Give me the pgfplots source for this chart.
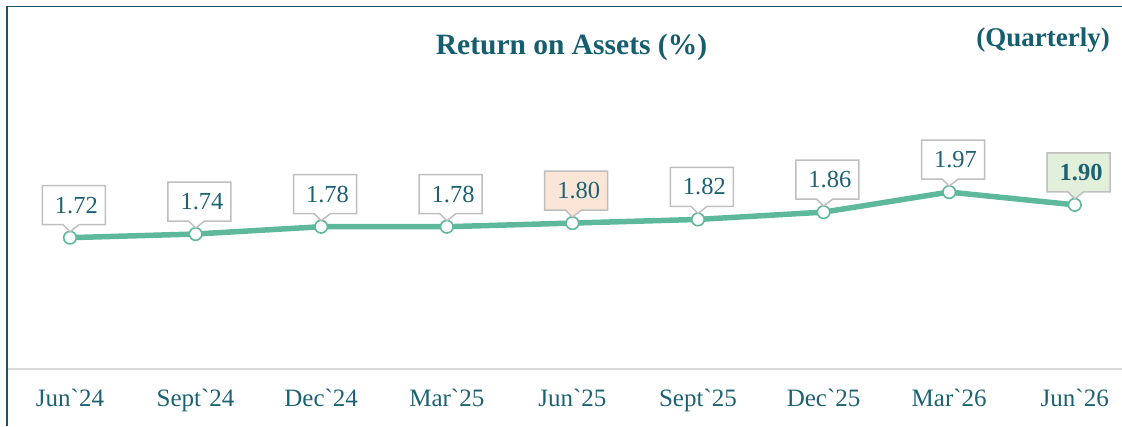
\documentclass[border=0pt]{standalone}
\usepackage{fontspec}
\setmainfont{Liberation Serif}[Ligatures=TeXOff]
\usepackage{pgfplots}
\pgfplotsset{compat=1.18}
\usetikzlibrary{shapes.callouts}
\definecolor{titlec}{RGB}{22,94,110}
\definecolor{labc}{RGB}{28,98,114}
\definecolor{linec}{RGB}{94,184,156}
\definecolor{boxc}{RGB}{191,191,191}
\definecolor{orfill}{RGB}{251,229,214}
\definecolor{grfill}{RGB}{226,239,218}
\definecolor{framec}{RGB}{27,84,104}
\definecolor{axc}{RGB}{217,217,217}

\pgfplotsset{
  calloutlab/.style={
    draw=none, mark=none, point meta=y,
    nodes near coords={\hspace*{5pt}\pgfmathprintnumber[fixed,precision=2,fixed zerofill,assume math mode=true]{\pgfplotspointmeta}},
    every node near coord/.append style={rectangle callout, draw=boxc, line width=1.5pt, fill=#1, text=labc,
      font=\fontsize{24.5}{28}\selectfont, minimum width=63pt, minimum height=39pt,
      inner sep=0pt, callout relative pointer={(-1pt,-7pt)}, callout pointer width=16pt,
      anchor=pointer, yshift=5pt},
  }
}

\begin{document}
\begin{tikzpicture}
\begin{axis}[
  scale only axis, width=1114.8pt, height=273.6pt,
  xmin=-0.5, xmax=8.376, ymin=1.0, ymax=2.5,
  axis x line*=bottom, axis y line=none,
  x axis line style={draw=axc, line width=2pt, -},
  xtick={0,1,2,3,4,5,6,7,8},
  xticklabels={Jun`24, Sept`24, Dec`24, Mar`25, Jun`25, Sept`25, Dec`25, Mar`26, Jun`26},
  major tick length=0pt,
  xticklabel style={font=\fontsize{25}{29}\selectfont, text=labc, anchor=base, yshift=-37.7pt},
  clip=false,
]
\addplot[linec, line width=5.5pt, line join=round, mark=*, mark size=6.3pt,
  mark options={fill=white, draw=linec, line width=1.6pt}]
  coordinates {(0,1.72) (1,1.74) (2,1.78) (3,1.78) (4,1.80) (5,1.82) (6,1.86) (7,1.97) (8,1.90)};
\addplot[calloutlab=white] coordinates {(0,1.72) (1,1.74) (2,1.78) (3,1.78) (5,1.82) (6,1.86) (7,1.97)};
\addplot[calloutlab=orfill] coordinates {(4,1.80)};
\addplot[calloutlab=grfill, every node near coord/.append style={font=\fontsize{24.5}{28}\selectfont\bfseries}] coordinates {(8,1.90)};
\coordinate (bl) at (rel axis cs:0,0);
\end{axis}
\pgfresetboundingbox
\begin{scope}[shift={([xshift=-7.2pt,yshift=-57pt]bl)}, x=1pt, y=1pt]
\path[use as bounding box] (0,0) rectangle (1122,426);
\draw[framec, line width=1.6pt] (7.3,0) -- (7.3,419.3) -- (1122,419.3);
\node[anchor=base, text=titlec, font=\fontsize{29.5}{33}\selectfont\bfseries] at (571.5,371.7) {Return on Assets (\%)};
\node[anchor=base east, text=titlec, font=\fontsize{27}{31}\selectfont\bfseries, inner sep=0pt] at (1110,379.5) {(Quarterly)};
\end{scope}
\end{tikzpicture}
\end{document}
